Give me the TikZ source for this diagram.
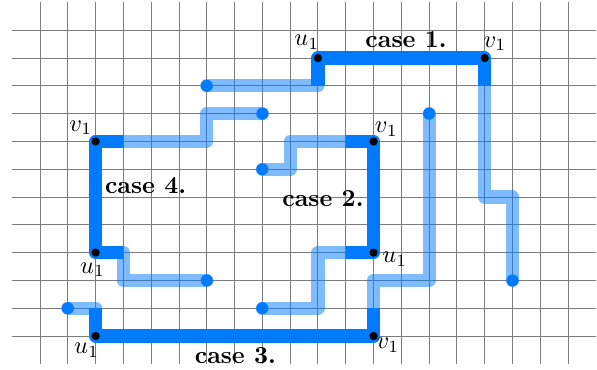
\documentclass[tikz,border=0pt]{standalone}
\usepackage{amsmath,amssymb}
\definecolor{Azure}{RGB}{0,122,255}
\definecolor{Rule}{RGB}{125,125,125}

\begin{document}
\begin{tikzpicture}[x=0.4cm,y=0.4cm,
    walk/.style={Azure,line width=5.4pt,line join=round},
    tail/.style={Azure,opacity=.5,line width=5.4pt,line cap=round,line join=round},
    tip/.style={circle,fill=Azure,inner sep=0pt,minimum size=5pt},
    endpt/.style={circle,fill=black,inner sep=0pt,minimum size=3.4pt}]
    \useasboundingbox (-0.44,-0.19) rectangle (21.04,13.09);
    \foreach \y in {1,...,12} \draw[Rule,line width=.4pt] (0,\y)--(21,\y);
    \foreach \x in {1,...,20} \draw[Rule,line width=.4pt] (\x,0)--(\x,13);
    % light tails
    \draw[tail] (7,10)--(11,10);
    \draw[tail] (17,10)--(17,6)--(18,6)--(18,3);
    \draw[tail] (9,7)--(10,7)--(10,8)--(12,8);
    \draw[tail] (9,2)--(11,2)--(11,4)--(12,4);
    \draw[tail] (2,2)--(3,2);
    \draw[tail] (13,2)--(13,3)--(15,3)--(15,9);
    \draw[tail] (4,8)--(7,8)--(7,9)--(9,9);
    \draw[tail] (4,4)--(4,3)--(7,3);
    % the four cases
    \draw[walk] (11,10)--(11,11)--(17,11)--(17,10);
    \draw[walk] (12,8)--(13,8)--(13,4)--(12,4);
    \draw[walk] (3,2)--(3,1)--(13,1)--(13,2);
    \draw[walk] (4,8)--(3,8)--(3,4)--(4,4);
    \foreach \p/\n in {(7,10)/t1,(18,3)/t2,(9,7)/t3,(9,2)/t4,(2,2)/t5,(15,9)/t6,(9,9)/t7,(7,3)/t8}
      \node[tip] (\n) at \p {};
    \node[endpt] (ua) at (11,11) {}; \node[endpt] (va) at (17,11) {};
    \node[endpt] (vb) at (13,8) {};  \node[endpt] (ub) at (13,4) {};
    \node[endpt] (uc) at (3,1) {};   \node[endpt] (vc) at (13,1) {};
    \node[endpt] (vd) at (3,8) {};   \node[endpt] (ud) at (3,4) {};
    % labels
    \node (lua) at (10.60,11.56) {$u_1$}; \node (lva) at (17.37,11.52) {$v_1$};
    \node (ca) at (14.17,11.66) {\bfseries case 1.};
    \node (lvb) at (13.46,8.44) {$v_1$}; \node (lub) at (13.77,3.76) {$u_1$};
    \node (cb) at (11.18,5.96) {\bfseries case 2.};
    \node (luc) at (2.68,0.49) {$u_1$}; \node (lvc) at (13.52,0.67) {$v_1$};
    \node (cc) at (8.03,0.31) {\bfseries case 3.};
    \node (lvd) at (2.47,8.49) {$v_1$}; \node (lud) at (2.89,3.38) {$u_1$};
    \node (cd) at (4.80,6.40) {\bfseries case 4.};
  \end{tikzpicture}
\end{document}
